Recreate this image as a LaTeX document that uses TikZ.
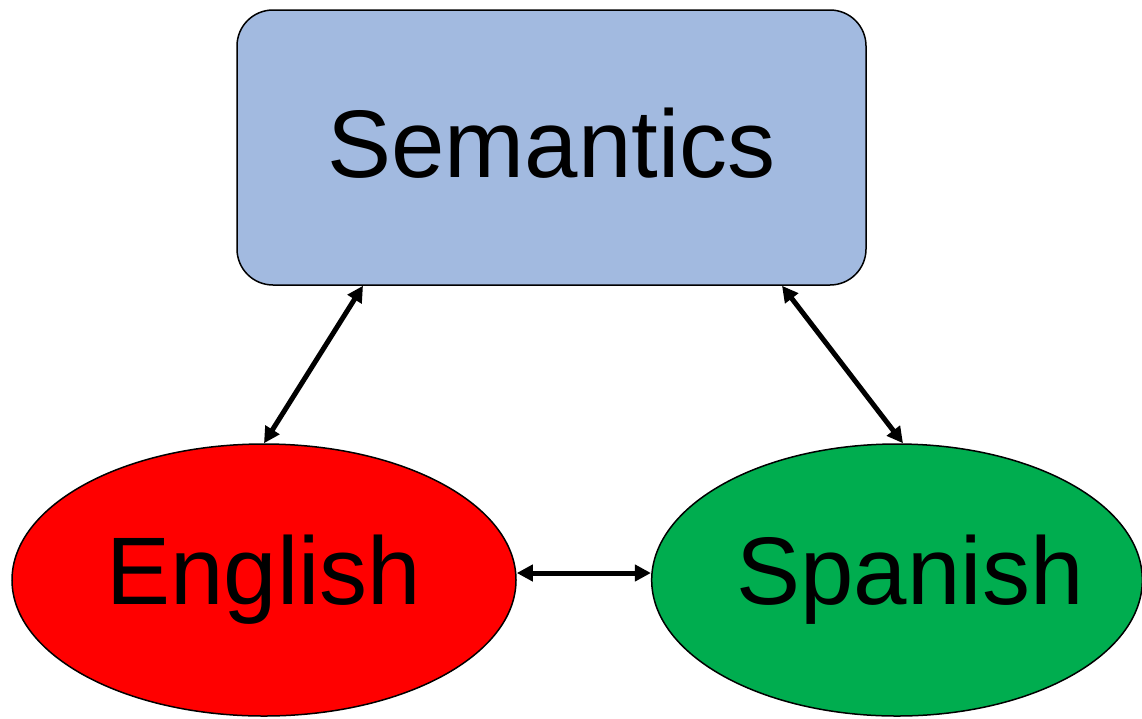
\documentclass[tikz,border=0pt]{standalone}
\usepackage{fontspec}
\setmainfont{Liberation Sans}
\usetikzlibrary{positioning,shapes.geometric,arrows.meta}

\definecolor{semblue}{HTML}{A2BAE0}
\definecolor{engred}{HTML}{FF0000}
\definecolor{spagreen}{HTML}{00AD4F}

\tikzset{
  bigtext/.style={font=\fontsize{96}{112}\selectfont},
  lang/.style={draw, ellipse, line width=1.5pt, inner sep=0pt, bigtext},
  link/.style={{Triangle[length=16pt,width=16pt]}-{Triangle[length=16pt,width=16pt]}, line width=5pt}
}

\begin{document}
\begin{tikzpicture}[x=1pt, y=-1pt]
        \useasboundingbox (0,0) rectangle (1142,718);

        \node[draw, rectangle, rounded corners=36pt, line width=1.5pt,
        fill=semblue, minimum width=629pt, minimum height=275pt,
        bigtext, text depth=10pt] (sem) at (551.5,147.5) {Semantics};

        \node[lang, fill=engred, minimum width=504pt,
        minimum height=272pt] (eng) at (264,580) {English};

        \node[lang, fill=spagreen, minimum width=490pt,
        minimum height=272pt] (spa) at (897,580)
        {\hspace*{13pt}Spanish\hspace*{-13pt}};

        \draw[link] (eng.north) -- (sem.south -| 363,0);

        \draw[link] (spa.north -| 903,0) -- (sem.south -| 782,0);

        \draw[link] (eng.east |- 0,573) -- (spa.west |- 0,573);
      \end{tikzpicture}
\end{document}
